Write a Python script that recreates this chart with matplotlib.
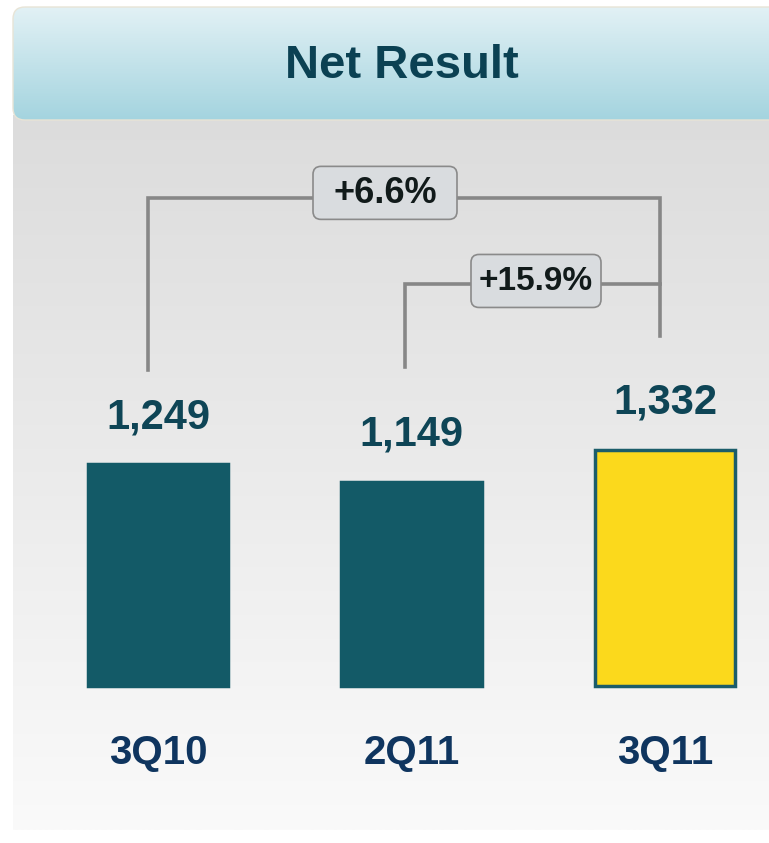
import numpy as np
import matplotlib
matplotlib.use("Agg")
import matplotlib.pyplot as plt
from matplotlib.patches import FancyBboxPatch

plt.rcParams['font.family'] = ['Liberation Sans', 'DejaVu Sans']

# dados
categorias = ["3Q10", "2Q11", "3Q11"]
valores = [1249, 1149, 1332]
rotulos = ["1,249", "1,149", "1,332"]
variacoes = ["+6.6%", "+15.9%"]

# escala: pixels da figura
W, H = 769, 843
X0, DX, Y0, SY = 158, 253.5, 686, 0.1775


def to_px(x, y):
    return X0 + x * DX, Y0 - y * SY


fig = plt.figure(figsize=(W / 100, H / 100), dpi=100)
fig.patch.set_facecolor("white")

# fundo
bg = fig.add_axes([0, 0, 1, 1])
bg.set_xlim(0, W)
bg.set_ylim(H, 0)
bg.axis("off")

grad = np.linspace(0, 1, 256).reshape(-1, 1)
bg.imshow(grad, cmap=matplotlib.colors.LinearSegmentedColormap.from_list(
    "cinza", ["#dcdcdc", "#fafafa"]), extent=[13, W, 830, 115], aspect="auto", zorder=0)

cab = FancyBboxPatch((13, 7), W + 20, 113, boxstyle="round,pad=0,rounding_size=12",
                     fc="none", ec="#e8e4d6", lw=1, zorder=2)
bg.add_patch(cab)
img = bg.imshow(grad, cmap=matplotlib.colors.LinearSegmentedColormap.from_list(
    "azul", ["#e2f1f5", "#a4d4df"]), extent=[13, W, 120, 7], aspect="auto", zorder=1)
img.set_clip_path(cab)
bg.text(402, 66, "Net Result", ha="center", va="center", fontsize=34,
        fontweight="bold", color="#0b4153", zorder=3)

# grafico
ax = fig.add_axes([0, 0, 1, 1])
ax.patch.set_alpha(0)
ax.set_xlim(-X0 / DX, (W - X0) / DX)
ax.set_ylim(-(H - Y0) / SY, Y0 / SY)
ax.axis("off")

x = np.arange(len(valores))
ax.bar(x, valores, width=140 / DX, color=["#135a67", "#135a67", "#fbd91c"],
       edgecolor=["#135a67", "#135a67", "#1b5d6a"], linewidth=2.5, zorder=3)

for i, v in enumerate(valores):
    ax.annotate(rotulos[i], (i, v), xytext=(0, 34), textcoords="offset points",
                ha="center", va="center", fontsize=30, fontweight="bold", color="#0e4556")
    ax.annotate(categorias[i], (i, 0), xytext=(0, -48.5), textcoords="offset points",
                ha="center", va="center", fontsize=29, fontweight="bold", color="#0f355f")

# colchetes
cor = "#878787"
xl1, xl2, xr = 0 - 10 / DX, 1 - 7 / DX, 2 - 5 / DX
topo1, topo2 = 2750, 2265
ax.plot([xl1, xl1, xr, xr], [valores[0] + 530, topo1, topo1, valores[2] + 640],
        color=cor, lw=2.6, solid_joinstyle="miter", zorder=2)
ax.plot([xl2, xl2, xr], [valores[1] + 650, topo2, topo2],
        color=cor, lw=2.6, solid_joinstyle="miter", zorder=2)

# caixas com as variacoes
ax2 = fig.add_axes([0, 0, 1, 1])
ax2.patch.set_alpha(0)
ax2.set_xlim(0, W)
ax2.set_ylim(H, 0)
ax2.axis("off")

caixas = [(385, topo1, 144, 53, 26, -5), (536, topo2, 130, 53, 24, -3)]
for (cx, ty, bw, bh, fs, dy), txt in zip(caixas, variacoes):
    cy = to_px(0, ty)[1] + dy
    ax2.add_patch(FancyBboxPatch((cx - bw / 2, cy - bh / 2), bw, bh,
                                 boxstyle="round,pad=0,rounding_size=8",
                                 fc="#d9dcdf", ec="#8a8a8a", lw=1.2, zorder=5))
    ax2.text(cx, cy + 1, txt, ha="center", va="center", fontsize=fs,
             fontweight="bold", color="#111a1a", zorder=6)

fig.savefig("out.png", dpi=100)
